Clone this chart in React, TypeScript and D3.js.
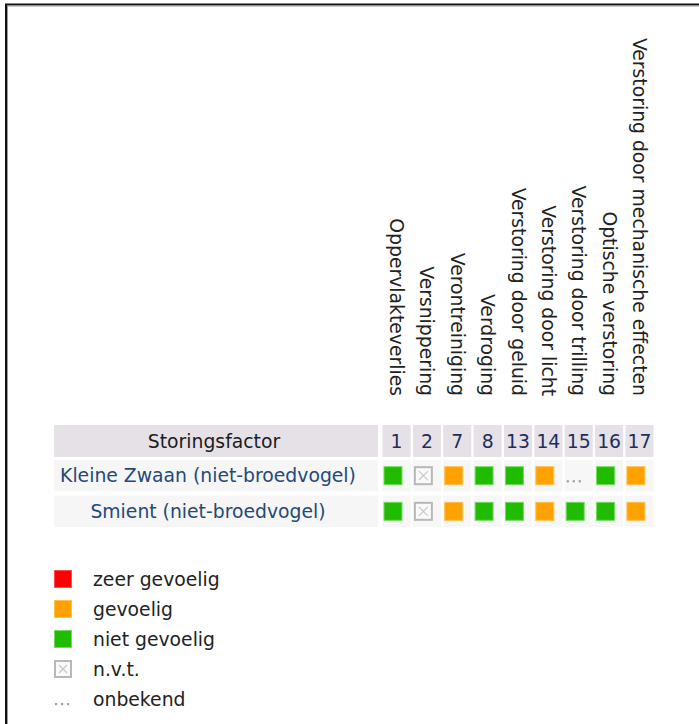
import { scaleBand, scaleOrdinal } from "d3";

const factorCodes = ["1", "2", "7", "8", "13", "14", "15", "16", "17"];
const factorNames = [
  "Oppervlakteverlies",
  "Versnippering",
  "Verontreiniging",
  "Verdroging",
  "Verstoring door geluid",
  "Verstoring door licht",
  "Verstoring door trilling",
  "Optische verstoring",
  "Verstoring door mechanische effecten",
];
const speciesNames = ["Kleine Zwaan (niet-broedvogel)", "Smient (niet-broedvogel)"];
const kleineZwaan = ["niet", "nvt", "gevoelig", "niet", "niet", "gevoelig", "onbekend", "niet", "gevoelig"];
const smient = ["niet", "nvt", "gevoelig", "niet", "niet", "gevoelig", "niet", "niet", "gevoelig"];
const legendKeys = ["zeer", "gevoelig", "niet", "nvt", "onbekend"];
const legendLabels = ["zeer gevoelig", "gevoelig", "niet gevoelig", "n.v.t.", "onbekend"];

const FONT = "'DejaVu Sans', Verdana, sans-serif";
const FS = 18.8;
const W = 699;
const H = 724;

const fillColor = scaleOrdinal<string, string>()
  .domain(["zeer", "gevoelig", "niet"])
  .range(["#ff0000", "#ffa200", "#21bb00"]);
const edgeColor = scaleOrdinal<string, string>()
  .domain(["zeer", "gevoelig", "niet"])
  .range(["#ff5050", "#ffc050", "#70dd60"]);

function Mark({ kind, x, y, size }: { kind: string; x: number; y: number; size: number }) {
  if (kind === "nvt") {
    return (
      <g>
        <rect x={x + 1} y={y + 1} width={size - 2} height={size - 2} fill="#fafafa" stroke="#b8b8b8" strokeWidth={2} />
        <line x1={x + 5} y1={y + 5} x2={x + size - 5} y2={y + size - 5} stroke="#c8c8c8" strokeWidth={1.2} />
        <line x1={x + size - 5} y1={y + 5} x2={x + 5} y2={y + size - 5} stroke="#c8c8c8" strokeWidth={1.2} />
      </g>
    );
  }
  if (kind === "onbekend") {
    return (
      <g fill="#a0a0a0">
        {[0, 1, 2].map((i) => (
          <rect key={i} x={x + 1 + i * 6} y={y + size - 5} width={2.2} height={2.2} />
        ))}
      </g>
    );
  }
  return (
    <rect x={x + 0.5} y={y + 0.5} width={size - 1} height={size - 1} fill={fillColor(kind)} stroke={edgeColor(kind)} strokeWidth={1} />
  );
}

export default function App() {
  const x = scaleBand<string>().domain(factorCodes).range([382.5, 653.5]).paddingInner(0.075);
  const rows = [kleineZwaan, smient];
  const y = scaleBand<string>().domain(speciesNames).range([460, 527]).paddingInner(0.12);
  const legendY = scaleBand<string>().domain(legendKeys).range([564, 714]);
  const labelX0 = 54;
  const labelX1 = 378;
  const rowLabelX = 208;
  const headerTop = 425;
  const headerBottom = 457;
  const sq = 19;

  return (
    <svg
      width={W}
      height={H}
      style={{ position: "absolute", left: 0, top: 0, background: "#fff" }}
      fontFamily={FONT}
    >
      {/* frame */}
      <path d={`M6,${H} V4.5 H${W}`} fill="none" stroke="#111" strokeWidth={2} />
      <path d={`M7.5,${H} V6 H${W}`} fill="none" stroke="#9a9a9a" strokeWidth={1} />

      {/* rotated factor names */}
      {factorCodes.map((c, i) => (
        <text
          key={c}
          transform={`translate(${x(c)! + x.bandwidth() / 2},396) rotate(90)`}
          textAnchor="end"
          dominantBaseline="central"
          fontSize={FS}
          fill="#222"
        >
          {factorNames[i]}
        </text>
      ))}

      {/* header row */}
      <rect x={labelX0} y={headerTop} width={labelX1 - labelX0} height={headerBottom - headerTop} fill="#e6e1e6" />
      <text x={214} y={(headerTop + headerBottom) / 2} textAnchor="middle" dominantBaseline="central" fontSize={FS} fill="#1c1c1c">
        Storingsfactor
      </text>
      {factorCodes.map((c) => (
        <g key={c}>
          <rect x={x(c)} y={headerTop} width={x.bandwidth()} height={headerBottom - headerTop} fill="#e6e1e6" />
          <text x={x(c)! + x.bandwidth() / 2} y={(headerTop + headerBottom) / 2} textAnchor="middle" dominantBaseline="central" fontSize={FS} fill="#1b2f5e">
            {c}
          </text>
        </g>
      ))}

      {/* species rows */}
      {speciesNames.map((s, r) => (
        <g key={s}>
          <rect x={labelX0} y={y(s)} width={labelX1 - labelX0} height={y.bandwidth()} fill="#f6f6f6" />
          <text x={rowLabelX} y={y(s)! + y.bandwidth() / 2} textAnchor="middle" dominantBaseline="central" fontSize={FS} fill="#234a78">
            {s}
          </text>
          {factorCodes.map((c, i) => (
            <g key={c}>
              <rect x={x(c)} y={y(s)} width={x.bandwidth()} height={y.bandwidth()} fill="#f7f7f7" />
              <Mark kind={rows[r][i]} x={x(c)! + 1} y={y(s)! + (y.bandwidth() - sq) / 2} size={sq} />
            </g>
          ))}
        </g>
      ))}

      {/* legend */}
      {legendKeys.map((k, i) => (
        <g key={k}>
          <Mark kind={k} x={54} y={legendY(k)! + (legendY.bandwidth() - 18) / 2} size={18} />
          <text x={93} y={legendY(k)! + legendY.bandwidth() / 2} dominantBaseline="central" fontSize={FS} fill="#222">
            {legendLabels[i]}
          </text>
        </g>
      ))}
    </svg>
  );
}
